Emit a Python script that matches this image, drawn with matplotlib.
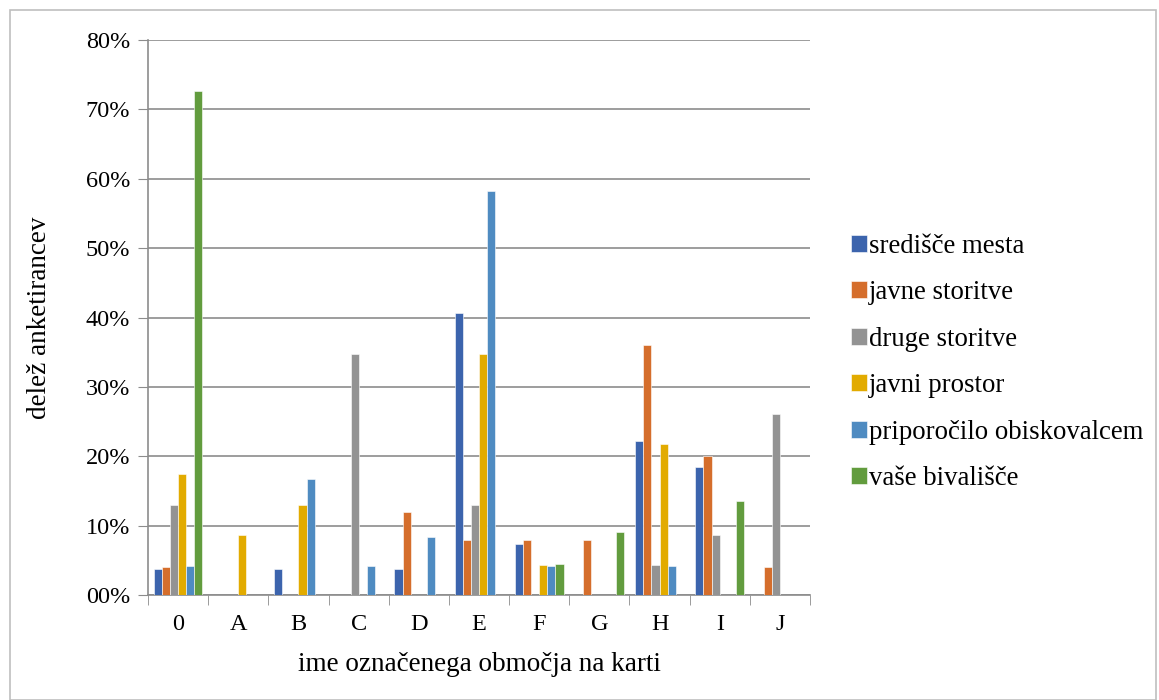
import matplotlib
matplotlib.use("Agg")
from matplotlib import pyplot as plt
from matplotlib.ticker import FuncFormatter
from matplotlib.patches import Rectangle
import numpy as np

plt.rcParams['font.family'] = ['Liberation Serif', 'DejaVu Serif']

categories = ["0", "A", "B", "C", "D", "E", "F", "G", "H", "I", "J"]
series_names = ["središče mesta", "javne storitve", "druge storitve",
                "javni prostor", "priporočilo obiskovalcem", "vaše bivališče"]
sredisce = [3.7, 0, 3.7, 0, 3.7, 40.7, 7.4, 0, 22.2, 18.5, 0]
javne = [4.0, 0, 0, 0, 12.0, 8.0, 8.0, 8.0, 36.0, 20.0, 4.0]
druge = [13.0, 0, 0, 34.8, 0, 13.0, 0, 0, 4.3, 8.7, 26.1]
prostor = [17.4, 8.7, 13.0, 0, 0, 34.8, 4.3, 0, 21.7, 0, 0]
priporocilo = [4.2, 0, 16.7, 4.2, 8.3, 58.3, 4.2, 0, 4.2, 0, 0]
bivalisce = [72.7, 0, 0, 0, 0, 0, 4.5, 9.1, 0, 13.6, 0]
colors = ["#3c64ad", "#d56e2c", "#939393", "#e2ab00", "#4f8bc1", "#629c3e"]

series = [sredisce, javne, druge, prostor, priporocilo, bivalisce]

fig = plt.figure(figsize=(11.59, 7.0), dpi=100)
fig.patches.append(Rectangle((10/1159, 0), 1146/1159, 690/700, transform=fig.transFigure,
                             fill=False, edgecolor="#bfbfbf", linewidth=1.2))
ax = fig.add_axes([148/1159, 105/700, 662/1159, 555/700])

x = np.arange(len(categories))
w = 0.135
for i, (vals, name, c) in enumerate(zip(series, series_names, colors)):
    ax.bar(x + (i - 2.5) * w, vals, width=w, color=c, label=name,
           edgecolor="white", linewidth=0.4, zorder=3)

ax.set_xlim(-0.5, len(categories) - 0.5)
ax.set_ylim(0, 80)
ax.set_yticks(range(0, 81, 10))
ax.yaxis.set_major_formatter(FuncFormatter(lambda v, p: "00%" if v == 0 else f"{int(v)}%"))
ax.set_xticks(x)
ax.set_xticklabels(categories)
ax.set_xticks(np.arange(-0.5, len(categories), 1), minor=True)
ax.tick_params(axis="x", which="major", length=0, pad=14, labelsize=17.5)
ax.tick_params(axis="x", which="minor", length=7, color="#8c8c8c")
ax.tick_params(axis="y", length=7, color="#8c8c8c", labelsize=17.5, pad=6)
ax.grid(axis="y", color="#8c8c8c", linewidth=1.2, zorder=0)
for s in ["top", "right"]:
    ax.spines[s].set_visible(False)
for s in ["left", "bottom"]:
    ax.spines[s].set_color("#8c8c8c")
    ax.spines[s].set_linewidth(1.2)

ax.set_xlabel("ime označenega območja na karti", fontsize=19.5, labelpad=12)
ax.set_ylabel("delež anketirancev", fontsize=19.5, labelpad=24)

ax.legend(loc="center left", bbox_to_anchor=(1.045, 0.419), frameon=False,
          fontsize=19.3, handlelength=0.6, handleheight=0.6, handletextpad=0.1,
          labelspacing=0.8, borderaxespad=0)

fig.savefig("out.png", dpi=100)
